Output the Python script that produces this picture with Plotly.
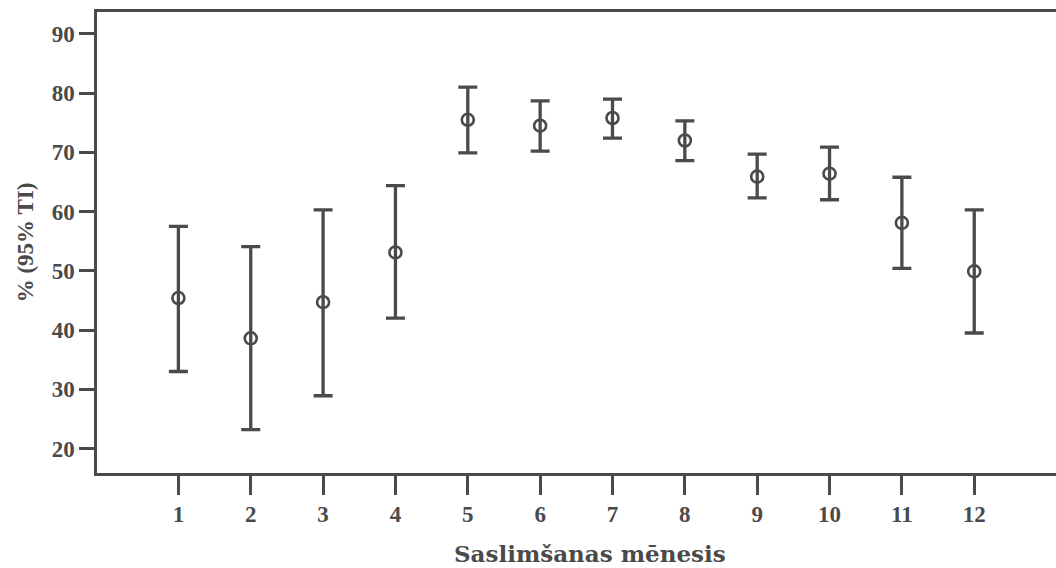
import plotly.graph_objects as go

months = [1, 2, 3, 4, 5, 6, 7, 8, 9, 10, 11, 12]
mean_pct = [45.4, 38.6, 44.7, 53.1, 75.5, 74.5, 75.8, 72.0, 65.9, 66.4, 58.1, 49.9]
ci_low = [33.0, 23.2, 28.9, 42.0, 69.9, 70.2, 72.4, 68.6, 62.3, 62.0, 50.4, 39.5]
ci_high = [57.5, 54.1, 60.3, 64.4, 81.0, 78.7, 79.0, 75.3, 69.7, 70.9, 65.8, 60.3]
x_ticks = months
y_ticks = [20, 30, 40, 50, 60, 70, 80, 90]
x_title = "Saslimšanas mēnesis"
y_title = "% (95% TI)"

err_plus = [h - m for h, m in zip(ci_high, mean_pct)]
err_minus = [m - l for m, l in zip(mean_pct, ci_low)]

ink = "#4a4a4a"
tick_font = "Liberation Serif"
title_font = "DejaVu Serif"

fig = go.Figure()
fig.add_trace(go.Scatter(
    x=months, y=mean_pct, mode="markers",
    marker=dict(symbol="circle-open", size=12, color=ink, line=dict(width=2.6, color=ink)),
    error_y=dict(type="data", symmetric=False, array=err_plus, arrayminus=err_minus,
                 color=ink, thickness=3.3, width=9.5),
    showlegend=False,
))

fig.update_layout(
    width=1056, height=568,
    margin=dict(l=97, r=0, t=12, b=95),
    paper_bgcolor="white", plot_bgcolor="white",
    font=dict(family=tick_font, color=ink),
    xaxis=dict(
        range=[-0.125, 13.13], tickvals=x_ticks, ticktext=[str(v) for v in x_ticks],
        ticks="outside", ticklen=19, tickwidth=2.5, tickcolor=ink,
        showline=True, linecolor=ink, linewidth=2.5, mirror=True,
        showgrid=False, zeroline=False,
        tickfont=dict(family=tick_font, size=23, color=ink, weight="bold"),
    ),
    yaxis=dict(
        range=[15.86, 93.7], tickvals=y_ticks,
        ticks="outside", ticklen=15, tickwidth=2.5, tickcolor=ink,
        showline=True, linecolor=ink, linewidth=2.5, mirror=False,
        showgrid=False, zeroline=False,
        tickfont=dict(family=tick_font, size=23, color=ink, weight="bold"),
        title=dict(text=y_title, standoff=12,
                   font=dict(family=tick_font, size=23, color=ink, weight="bold")),
    ),
    annotations=[dict(
        text=x_title, xref="paper", yref="paper", x=0.514, y=-0.174,
        xanchor="center", yanchor="middle", showarrow=False,
        font=dict(family=title_font, size=23, color=ink, weight="bold"),
    )],
)

fig.write_html(
    "out.html",
    config={"displayModeBar": False},
    post_script="document.body.style.margin='0';document.body.style.overflow='hidden';",
)
